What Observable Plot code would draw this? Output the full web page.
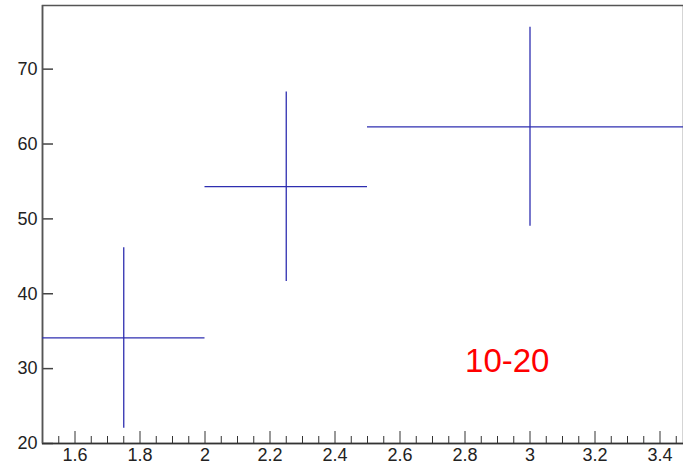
<!DOCTYPE html>
<html>
<head>
<meta charset="utf-8">
<script src="https://cdn.jsdelivr.net/npm/d3@7"></script>
<script src="https://cdn.jsdelivr.net/npm/@observablehq/plot@0.6"></script>
<style>
  html, body { margin: 0; padding: 0; background: #fff; overflow: hidden; }
</style>
</head>
<body>
<div id="chart"></div>
<script>
// Bin centres, bin edges and measured values with their uncertainties
const binCenter = [1.75, 2.25, 3.0];
const binLow    = [1.5, 2.0, 2.5];
const binHigh   = [2.0, 2.5, 3.5];
const value     = [34.1, 54.3, 62.3];
const valueErr  = [12.05, 12.65, 13.3];

// Axis tick labels
const xTickValues = [1.6, 1.8, 2.0, 2.2, 2.4, 2.6, 2.8, 3.0, 3.2, 3.4];
const yTickValues = [20, 30, 40, 50, 60, 70];

const label = "10-20";

const points = binCenter.map((x, i) => ({
  x, xlo: binLow[i], xhi: binHigh[i], y: value[i], ey: valueErr[i]
}));

const W = 683, H = 466;
const mTop = 5, mBottom = 23, mLeft = 42;
const frameH = H - mTop - mBottom;
const frameW = 650;

const xMinor = d3.range(1.55, 3.5, 0.05).map(v => +v.toFixed(2)).filter(v => !xTickValues.some(t => Math.abs(t - v) < 1e-6));
const yMinor = d3.range(22, 79, 2).filter(v => v % 10 !== 0);

const axisColor = "#555";
const barColor = "#2e2eb0";

const chart = Plot.plot({
  width: W,
  height: H,
  marginTop: mTop,
  marginBottom: mBottom,
  marginLeft: mLeft,
  marginRight: 0,
  style: { fontFamily: "'Liberation Sans', Arial, Helvetica, sans-serif", fontSize: "18px", color: "#222", background: "#fff" },
  x: { domain: [1.5, 3.5], range: [mLeft, mLeft + frameW], label: null },
  y: { domain: [20, 78.5], label: null },
  marks: [
    Plot.frame({ stroke: axisColor, strokeWidth: 1.5 }),
    // inward ticks on the x axis
    Plot.tickX(xTickValues, { x: d => d, stroke: "#333", insetTop: frameH - 12 }),
    Plot.tickX(xMinor, { x: d => d, stroke: "#333", insetTop: frameH - 7 }),
    // inward ticks on the y axis
    Plot.tickY(yTickValues, { y: d => d, stroke: "#444", strokeWidth: 1.5, insetRight: frameW - 20 }),
    Plot.tickY(yMinor, { y: d => d, stroke: "#444", strokeWidth: 1.5, insetRight: frameW - 10 }),
    Plot.axisX({ ticks: xTickValues, tickSize: 0, tickPadding: 5, tickFormat: d => `${+d.toFixed(1)}`, fontSize: 18, fill: "#222", label: null }),
    Plot.axisY({ ticks: yTickValues, tickSize: 0, tickPadding: 5, fontSize: 18, fill: "#222", label: null }),
    Plot.ruleY([20], { stroke: "#333", strokeWidth: 1.5 }),
    Plot.ruleX([1.5], { stroke: "#555", strokeWidth: 1.5 }),
    // horizontal bars span the bin, vertical bars show the uncertainty
    Plot.ruleY(points, { y: "y", x1: "xlo", x2: "xhi", stroke: barColor, strokeWidth: 1.3 }),
    Plot.ruleX(points, { x: "x", y1: d => d.y - d.ey, y2: d => d.y + d.ey, stroke: barColor, strokeWidth: 1.3 }),
    Plot.text([label], { x: 2.93, y: 29.5, text: d => d, fill: "#ff0000", fontSize: 33, textAnchor: "middle", lineAnchor: "bottom" })
  ]
});

document.getElementById("chart").appendChild(chart);
</script>
</body>
</html>
